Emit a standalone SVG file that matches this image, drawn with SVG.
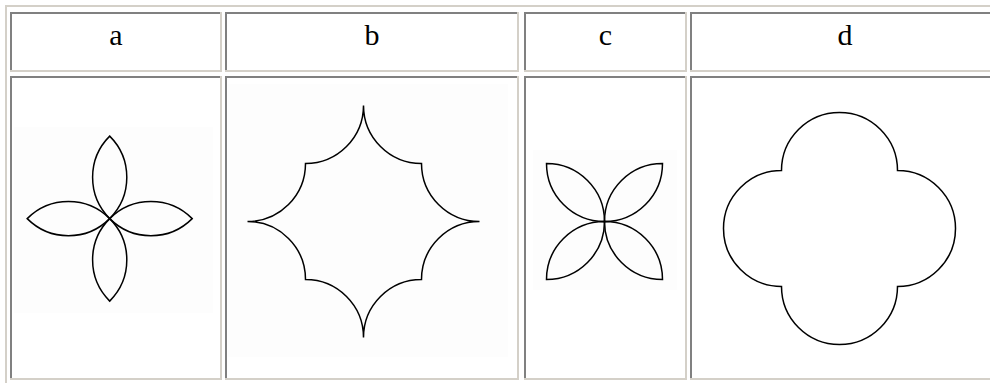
<svg xmlns="http://www.w3.org/2000/svg" width="990" height="383" viewBox="0 0 990 383">
  <style>
    .light { fill: #d4d0c8; }
    .dark { fill: #808080; }
    .bg { fill: #fdfdfd; }
    .lbl { font-family: "Liberation Serif", "Times New Roman", serif; font-size: 30px; fill: #000; text-anchor: middle; }
    .fig { fill: none; stroke: #000; stroke-width: 1.5; stroke-linejoin: miter; }
  </style>
  <rect x="0" y="0" width="990" height="383" fill="#ffffff"/>

  <!-- outer table border -->
  <g id="table">
    <rect class="light" x="5" y="5" width="985" height="2"/>
    <rect class="light" x="5" y="5" width="2" height="378"/>
  </g>

  <!-- column a -->
  <g id="col-a">
    <rect class="dark" x="10" y="12" width="212" height="2"/>
    <rect class="dark" x="10" y="12" width="2" height="60"/>
    <rect class="light" x="220" y="12" width="2" height="60"/>
    <rect class="light" x="10" y="70" width="212" height="2"/>
    <text class="lbl" x="116" y="45">a</text>
    <rect class="dark" x="10" y="76" width="212" height="2"/>
    <rect class="dark" x="10" y="76" width="2" height="304"/>
    <rect class="light" x="220" y="76" width="2" height="304"/>
    <rect class="light" x="10" y="378" width="212" height="2"/>
    <rect class="bg" x="14" y="127" width="199" height="186"/>
    <g class="fig">
      <path d="M109.7 218.6 A58.3 58.3 0 0 0 109.7 136.1 A58.3 58.3 0 0 0 109.7 218.6 Z"/>
      <path d="M109.7 218.6 A58.3 58.3 0 0 0 109.7 301.1 A58.3 58.3 0 0 0 109.7 218.6 Z"/>
      <path d="M109.7 218.6 A58.3 58.3 0 0 0 27.2 218.6 A58.3 58.3 0 0 0 109.7 218.6 Z"/>
      <path d="M109.7 218.6 A58.3 58.3 0 0 0 192.2 218.6 A58.3 58.3 0 0 0 109.7 218.6 Z"/>
    </g>
  </g>

  <!-- column b -->
  <g id="col-b">
    <rect class="dark" x="225" y="12" width="294" height="2"/>
    <rect class="dark" x="225" y="12" width="2" height="60"/>
    <rect class="light" x="517" y="12" width="2" height="60"/>
    <rect class="light" x="225" y="70" width="294" height="2"/>
    <text class="lbl" x="372" y="45">b</text>
    <rect class="dark" x="225" y="76" width="294" height="2"/>
    <rect class="dark" x="225" y="76" width="2" height="304"/>
    <rect class="light" x="517" y="76" width="2" height="304"/>
    <rect class="light" x="225" y="378" width="294" height="2"/>
    <rect class="bg" x="228" y="84" width="280" height="273"/>
    <path class="fig" d="M363.5 105.5 A58 58 0 0 1 305.5 163.5 A58 58 0 0 1 247.5 221.5 A58 58 0 0 1 305.5 279.5 A58 58 0 0 1 363.5 337.5 A58 58 0 0 1 421.5 279.5 A58 58 0 0 1 479.5 221.5 A58 58 0 0 1 421.5 163.5 A58 58 0 0 1 363.5 105.5 Z"/>
  </g>

  <!-- column c -->
  <g id="col-c">
    <rect class="dark" x="524" y="12" width="163" height="2"/>
    <rect class="dark" x="524" y="12" width="2" height="60"/>
    <rect class="light" x="685" y="12" width="2" height="60"/>
    <rect class="light" x="524" y="70" width="163" height="2"/>
    <text class="lbl" x="605.5" y="45">c</text>
    <rect class="dark" x="524" y="76" width="163" height="2"/>
    <rect class="dark" x="524" y="76" width="2" height="304"/>
    <rect class="light" x="685" y="76" width="2" height="304"/>
    <rect class="light" x="524" y="378" width="163" height="2"/>
    <rect class="bg" x="533" y="150" width="144" height="140"/>
    <g class="fig">
      <path d="M604.5 221.5 A58 58 0 0 0 546.5 163.5 A58 58 0 0 0 604.5 221.5 Z"/>
      <path d="M604.5 221.5 A58 58 0 0 0 662.5 163.5 A58 58 0 0 0 604.5 221.5 Z"/>
      <path d="M604.5 221.5 A58 58 0 0 0 546.5 279.5 A58 58 0 0 0 604.5 221.5 Z"/>
      <path d="M604.5 221.5 A58 58 0 0 0 662.5 279.5 A58 58 0 0 0 604.5 221.5 Z"/>
    </g>
  </g>

  <!-- column d -->
  <g id="col-d">
    <rect class="dark" x="690" y="12" width="300" height="2"/>
    <rect class="dark" x="690" y="12" width="2" height="60"/>
    <rect class="light" x="690" y="70" width="300" height="2"/>
    <text class="lbl" x="845" y="45">d</text>
    <rect class="dark" x="690" y="76" width="300" height="2"/>
    <rect class="dark" x="690" y="76" width="2" height="304"/>
    <rect class="light" x="690" y="378" width="300" height="2"/>
    <path class="fig" d="M781.5 170.5 A58 58 0 0 1 897.5 170.5 A58 58 0 0 1 897.5 286.5 A58 58 0 0 1 781.5 286.5 A58 58 0 0 1 781.5 170.5 Z"/>
  </g>
</svg>
